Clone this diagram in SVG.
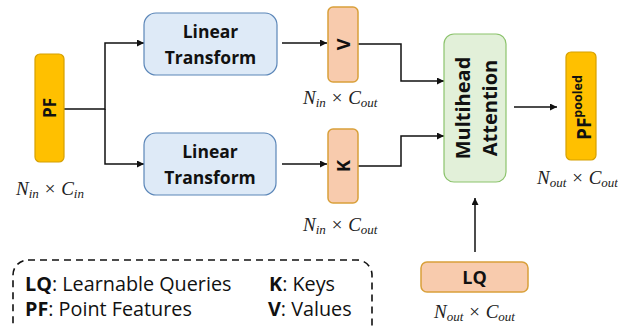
<svg xmlns="http://www.w3.org/2000/svg" width="618" height="326" viewBox="0 0 618 326">
  <style>
    .lbl { font-family: "Open Sans", "Liberation Sans", sans-serif; font-weight: bold; fill: #111; }
    .math { font-family: "Liberation Serif", serif; font-style: italic; font-size: 19px; fill: #222; }
    .sub { font-size: 13px; }
    .leg { font-family: "Open Sans", "Liberation Sans", sans-serif; font-size: 19.8px; fill: #111; }
    .wire { fill: none; stroke: #111; stroke-width: 1.5; }
    .pf { fill: #FFC000; stroke: #D6A000; stroke-width: 1.2; }
    .qk { fill: #F8CBAD; stroke: #D9A03A; stroke-width: 1.5; }
    .lt { fill: #DEEAF7; stroke: #5B86B8; stroke-width: 1.2; }
    .mha { fill: #E2F0D9; stroke: #8CC36D; stroke-width: 1.2; }
  </style>
  <defs>
    <marker id="arrow" viewBox="0 0 10 10" refX="10" refY="5" markerWidth="7" markerHeight="7" markerUnits="userSpaceOnUse" orient="auto">
      <path d="M0,0 L10,5 L0,10 z" fill="#111"/>
    </marker>
  </defs>

  <rect width="618" height="326" fill="#fff"/>

  <!-- connectors -->
  <g id="connectors">
    <path class="wire" d="M64,109 H105 V43 H144" marker-end="url(#arrow)"/>
    <path class="wire" d="M105,109 V164 H144" marker-end="url(#arrow)"/>
    <path class="wire" d="M282,43 H327" marker-end="url(#arrow)"/>
    <path class="wire" d="M282,164 H327" marker-end="url(#arrow)"/>
    <path class="wire" d="M358,44 H401 V81 H444" marker-end="url(#arrow)"/>
    <path class="wire" d="M358,166 H401 V136 H444" marker-end="url(#arrow)"/>
    <path class="wire" d="M514,107 H557" marker-end="url(#arrow)"/>
    <path class="wire" d="M475,252 V198" marker-end="url(#arrow)"/>
  </g>

  <!-- point features -->
  <g id="pf">
    <rect class="pf" x="35" y="54" width="29" height="108" rx="5"/>
    <text class="lbl" font-size="17" text-anchor="middle" dominant-baseline="central" transform="translate(49.5,108) rotate(-90)">PF</text>
    <text class="math" x="16" y="195">N<tspan class="sub" dy="3">in</tspan><tspan dy="-3"> × C</tspan><tspan class="sub" dy="3">in</tspan></text>
  </g>

  <g id="lt-top">
    <rect class="lt" x="144" y="13" width="133" height="62" rx="12"/>
    <text class="lbl" font-size="17.5" text-anchor="middle" x="210.5" y="38">Linear</text>
    <text class="lbl" font-size="17.5" text-anchor="middle" x="210.5" y="64">Transform</text>
  </g>

  <g id="lt-bottom">
    <rect class="lt" x="144" y="133" width="132" height="62" rx="12"/>
    <text class="lbl" font-size="17.5" text-anchor="middle" x="210" y="158">Linear</text>
    <text class="lbl" font-size="17.5" text-anchor="middle" x="210" y="184">Transform</text>
  </g>

  <g id="v">
    <rect class="qk" x="328" y="7" width="30" height="75" rx="5"/>
    <text class="lbl" font-size="18" text-anchor="middle" dominant-baseline="central" transform="translate(343,44.5) rotate(-90)">V</text>
    <text class="math" x="303" y="104">N<tspan class="sub" dy="3">in</tspan><tspan dy="-3"> × C</tspan><tspan class="sub" dy="3">out</tspan></text>
  </g>

  <g id="k">
    <rect class="qk" x="328" y="129" width="30" height="74" rx="5"/>
    <text class="lbl" font-size="18" text-anchor="middle" dominant-baseline="central" transform="translate(343,166) rotate(-90)">K</text>
    <text class="math" x="303" y="231">N<tspan class="sub" dy="3">in</tspan><tspan dy="-3"> × C</tspan><tspan class="sub" dy="3">out</tspan></text>
  </g>

  <g id="mha">
    <rect class="mha" x="444" y="34" width="62" height="148" rx="10"/>
    <text class="lbl" font-size="20" text-anchor="middle" dominant-baseline="central" transform="translate(462.5,108) rotate(-90)">Multihead</text>
    <text class="lbl" font-size="20" text-anchor="middle" dominant-baseline="central" transform="translate(489.5,108) rotate(-90)">Attention</text>
  </g>

  <g id="pf-pooled">
    <rect class="pf" x="566" y="52" width="30" height="108" rx="5"/>
    <text class="lbl" font-size="19" dominant-baseline="central" transform="translate(584,140) rotate(-90)">PF<tspan font-size="12.5" dy="-7">pooled</tspan></text>
    <text class="math" x="537" y="184">N<tspan class="sub" dy="3">out</tspan><tspan dy="-3"> × C</tspan><tspan class="sub" dy="3">out</tspan></text>
  </g>

  <g id="lq">
    <rect class="qk" x="421" y="262" width="107" height="30" rx="6"/>
    <text class="lbl" font-size="18" text-anchor="middle" dominant-baseline="central" x="474.5" y="277">LQ</text>
    <text class="math" x="434" y="318">N<tspan class="sub" dy="3">out</tspan><tspan dy="-3"> × C</tspan><tspan class="sub" dy="3">out</tspan></text>
  </g>

  <g id="legend">
    <rect x="13" y="260" width="359" height="80" rx="15" fill="none" stroke="#111" stroke-width="1.6" stroke-dasharray="7,5"/>
    <text class="leg" x="25" y="291"><tspan font-weight="bold">LQ</tspan>: Learnable Queries</text>
    <text class="leg" x="25" y="316"><tspan font-weight="bold">PF</tspan>: Point Features</text>
    <text class="leg" x="269" y="291"><tspan font-weight="bold">K</tspan>: Keys</text>
    <text class="leg" x="268" y="316"><tspan font-weight="bold">V</tspan>: Values</text>
  </g>
</svg>
